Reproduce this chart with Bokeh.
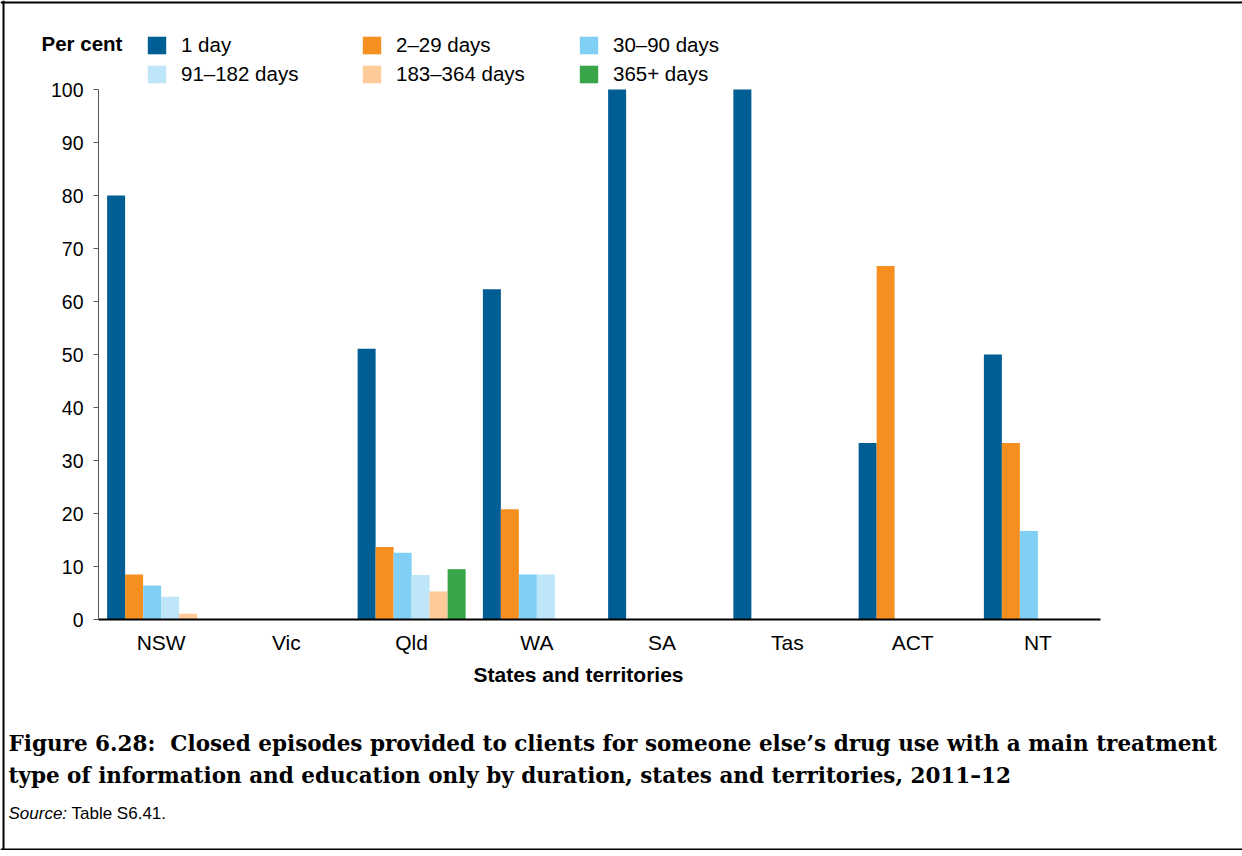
from bokeh.plotting import figure
from bokeh.models import (ColumnDataSource, Range1d, SingleIntervalTicker, FixedTicker,
                          Legend, LegendItem, Label, Span)
from bokeh.transform import dodge
from bokeh.embed import file_html
from bokeh.resources import INLINE

states = ["NSW", "Vic", "Qld", "WA", "SA", "Tas", "ACT", "NT"]
series_names = ["1 day", "2\u201329 days", "30\u201390 days",
                "91\u2013182 days", "183\u2013364 days", "365+ days"]
d1 = [80.0, 0, 51.1, 62.3, 100.0, 100.0, 33.3, 50.0]
d2_29 = [8.5, 0, 13.7, 20.8, 0, 0, 66.7, 33.3]
d30_90 = [6.4, 0, 12.6, 8.5, 0, 0, 0, 16.7]
d91_182 = [4.3, 0, 8.4, 8.5, 0, 0, 0, 0]
d183_364 = [1.1, 0, 5.3, 0, 0, 0, 0, 0]
d365 = [0, 0, 9.5, 0, 0, 0, 0, 0]

colors = ["#005E94", "#F58F20", "#80D0F5", "#BEE6F8", "#FDCA98", "#38A548"]
keys = ["d1", "d2_29", "d30_90", "d91_182", "d183_364", "d365"]

pos = [i + 0.5 for i in range(len(states))]
source = ColumnDataSource(dict(pos=pos, state=states, d1=d1, d2_29=d2_29, d30_90=d30_90,
                               d91_182=d91_182, d183_364=d183_364, d365=d365))

FONT = "Liberation Sans"
W, H = 1242, 850
# layout (pixels): plot area left/right/top(100)/bottom(0)
PX_L, PX_R, PX_T, PX_B = 98, 1100, 89, 619
ppx = (PX_R - PX_L) / len(states)
ppy = (PX_B - PX_T) / 100.0
x_range = Range1d(-PX_L / ppx, (W - PX_L) / ppx)
y_range = Range1d(-(H - PX_B) / ppy, PX_B / ppy)

p = figure(x_range=x_range, y_range=y_range, width=W, height=H, title=None,
           min_border=0, min_border_left=0, min_border_right=0,
           min_border_top=0, min_border_bottom=0,
           output_backend="svg", toolbar_location=None, tools="")
p.outline_line_color = None
p.xgrid.grid_line_color = None
p.ygrid.grid_line_color = None
p.background_fill_color = "white"
p.border_fill_color = "white"

# page frame lines (left, top, bottom)
p.add_layout(Span(location=3, location_units="screen", dimension="height",
                  line_color="black", line_width=2))
p.add_layout(Span(location=H - 2, location_units="screen", dimension="width",
                  line_color="black", line_width=2))
p.add_layout(Span(location=1, location_units="screen", dimension="width",
                  line_color="black", line_width=2))

bw = 0.1437
renderers = []
for i, (k, c) in enumerate(zip(keys, colors)):
    r = p.vbar(x=dodge("pos", (i - 2.5) * bw), top=k, width=bw,
               source=source, fill_color=c, line_color=None)
    renderers.append(r)

# Axes
ya = p.yaxis[0]
ya.fixed_location = 0
ya.bounds = (0, 100)
ya.ticker = SingleIntervalTicker(interval=10)
ya.axis_line_color = "#555555"
ya.major_tick_line_color = "#555555"
ya.major_tick_out = 5
ya.major_tick_in = 0
ya.minor_tick_line_color = None
ya.major_label_standoff = 10
ya.major_label_text_font = FONT
ya.major_label_text_font_size = "19.5px"
ya.major_label_text_color = "black"

xa = p.xaxis[0]
xa.fixed_location = 0
xa.bounds = (0, len(states))
xa.ticker = FixedTicker(ticks=pos)
xa.major_label_overrides = {pv: s for pv, s in zip(pos, states)}
xa.axis_line_color = "black"
xa.axis_line_width = 2
xa.major_tick_line_color = None
xa.minor_tick_line_color = None
xa.major_tick_out = 0
xa.major_label_standoff = 11
xa.major_label_text_font = FONT
xa.major_label_text_font_size = "21px"
xa.major_label_text_color = "black"

# Legends: three columns of two items, row-major order
cols_x = [145, 360, 577]
for ci in range(3):
    items = [LegendItem(label=series_names[ci], renderers=[renderers[ci]]),
             LegendItem(label=series_names[ci + 3], renderers=[renderers[ci + 3]])]
    lg = Legend(items=items, location=(cols_x[ci], H - 86), orientation="vertical",
                padding=0, margin=0, spacing=5, glyph_width=23, glyph_height=22,
                label_standoff=13, label_height=22,
                label_text_font=FONT, label_text_font_size="20.5px",
                label_text_color="black",
                border_line_color=None, background_fill_alpha=0)
    p.add_layout(lg, "center")

def lab(text, x, py, size, style="normal", font=FONT, align="left"):
    p.add_layout(Label(x=x, y=H - py, x_units="screen", y_units="screen", text=text,
                       text_font=font, text_font_size=size, text_font_style=style,
                       text_baseline="middle", text_align=align, text_color="black"))

lab("Per cent", 41, 43, "20.5px", "bold")
lab("States and territories", 578, 674, "21px", "bold", align="center")
lab("Figure 6.28:\u00a0 Closed episodes provided to clients for someone else\u2019s drug use with a main treatment",
    8, 743, "21.5px", "bold", "DejaVu Serif")
lab("type of information and education only by duration, states and territories, 2011\u201312",
    8, 775, "21.5px", "bold", "DejaVu Serif")
lab("Source:", 8, 813, "17px", "italic")
lab("Table S6.41.", 71, 813, "17px")

open("out.html", "w").write(file_html(p, INLINE))
